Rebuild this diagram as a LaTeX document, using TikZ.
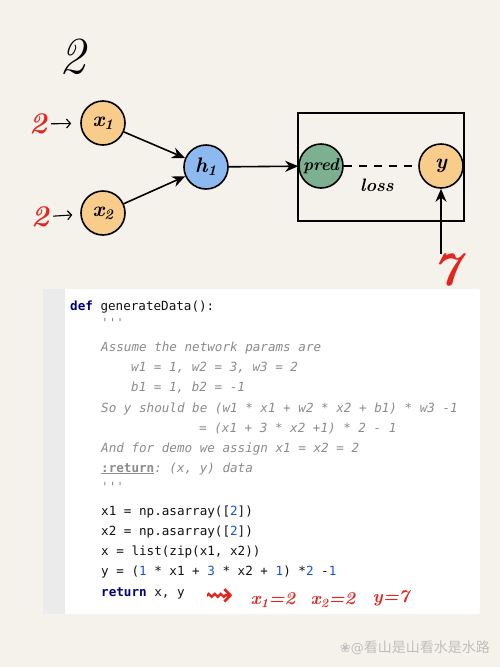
\documentclass[tikz,border=0pt]{standalone}
\usepackage{fontspec}
\setmonofont{DejaVu Sans Mono}
\newfontfamily\cjkfont{Noto Sans CJK SC}
\newfontfamily\dingfont{DejaVu Sans}
\usetikzlibrary{arrows.meta, positioning}
\definecolor{paper}{HTML}{F5F2EC}
\definecolor{gutter}{HTML}{EBEBEB}
\definecolor{inorange}{HTML}{F8CD8C}
\definecolor{hidblue}{HTML}{8CB9F0}
\definecolor{predgreen}{HTML}{7DB091}
\definecolor{inkred}{HTML}{E0261E}
\definecolor{kwnavy}{HTML}{000080}
\definecolor{numblue}{HTML}{1750EB}
\definecolor{docgray}{HTML}{8C8C8C}
\definecolor{codeink}{HTML}{111111}
\tikzset{
    neuron/.style={circle, draw=black, line width=1.6pt, minimum size=44pt, inner sep=0pt, font=\fontsize{21}{21}\selectfont\bfseries\itshape},
    inneuron/.style={neuron, fill=inorange},
    hidneuron/.style={neuron, fill=hidblue},
    predneuron/.style={neuron, fill=predgreen},
    arrow/.style={-{Stealth[length=13pt, width=11pt]}, line width=1.6pt, draw=black},
    smallarrow/.style={-{Straight Barb[length=4pt, width=9pt]}, line width=1.1pt, draw=black},
    dashedline/.style={line width=1.6pt, dash pattern=on 8pt off 7pt},
    redmark/.style={text=inkred, inner sep=0pt, font=\fontsize{30}{30}\selectfont\bfseries\itshape},
    rednote/.style={text=inkred, inner sep=0pt, font=\fontsize{18}{18}\selectfont\bfseries\itshape},
    codeline/.style={anchor=base west, inner sep=0pt, text=codeink, font=\ttfamily\fontsize{12.6}{15}\selectfont},
    docline/.style={codeline, text=docgray, font=\ttfamily\itshape\fontsize{12.6}{15}\selectfont}
}
\newcommand{\kwd}[1]{\textcolor{kwnavy}{\bfseries #1}}
\newcommand{\numc}[1]{\textcolor{numblue}{#1}}
\begin{document}
\begin{tikzpicture}[x=1pt, y=-1pt]
    \fill[paper] (0,0) rectangle (500,667);
    % network
    \node[inner sep=0pt, font=\fontsize{52}{52}\selectfont\itshape] (title) at (72,57) {2};
    \node[inneuron] (x1) at (103,123) {x\textsubscript{1}};
    \node[inneuron] (x2) at (103,213) {x\textsubscript{2}};
    \node[hidneuron] (h1) at (206,167) {h\textsubscript{1}};
    \node[predneuron, font=\fontsize{17}{17}\selectfont\bfseries\itshape] (pred) at (321,166) {pred};
    \node[inneuron] (yout) at (441,166) {y};
    \node[draw, line width=1.6pt, minimum width=166pt, minimum height=108pt, inner sep=0pt] (lossbox) at (381,167) {};
    \node[font=\fontsize{18}{18}\selectfont\bfseries\itshape] (loss) at (377,185) {loss};
    \node[redmark] (in1) at (38,124) {2};
    \node[redmark] (in2) at (40,217) {2};
    \node[redmark, font=\fontsize{48}{48}\selectfont\bfseries\itshape] (target) at (447,270) {7};
    \draw[smallarrow, shorten <=4pt, shorten >=9pt] (in1) -- (x1);
    \draw[smallarrow, shorten <=4pt, shorten >=8pt] (in2) -- (x2);
    \draw[arrow] (x1) -- (h1);
    \draw[arrow] (x2) -- (h1);
    \draw[arrow] (h1) -- (pred);
    \draw[dashedline] (pred) -- (yout);
    \draw[arrow] (target.north -| yout) -- (yout.south);
    % code block
    \fill[white, rounded corners=2pt] (43,289) rectangle (480,614);
    \fill[gutter] (43,289) rectangle (65,614);
    \node[codeline] (l1) at (70,310) {\kwd{def} generateData():};
    \node[docline] (l2) at (101,327) {'{}'{}'};
    \node[docline] (l3) at (101,351) {Assume the network params are};
    \node[docline] (l4) at (131,371) {w1 = 1, w2 = 3, w3 = 2};
    \node[docline] (l5) at (131,391) {b1 = 1, b2 = -1};
    \node[docline] (l6) at (101,412) {So y should be (w1 * x1 + w2 * x2 + b1) * w3 -1};
    \node[docline] (l7) at (199,432) {= (x1 + 3 * x2 +1) * 2 - 1};
    \node[docline] (l8) at (101,452) {And for demo we assign x1 = x2 = 2};
    \node[docline] (l9) at (101,472) {\underline{\upshape\bfseries :return}: (x, y) data};
    \node[docline] (l10) at (101,491) {'{}'{}'};
    \node[codeline] (l11) at (101,515) {x1 = np.asarray([\numc{2}])};
    \node[codeline] (l12) at (101,535) {x2 = np.asarray([\numc{2}])};
    \node[codeline] (l13) at (101,555) {x = list(zip(x1, x2))};
    \node[codeline] (l14) at (101,575) {y = (\numc{1} * x1 + \numc{3} * x2 + \numc{1}) *\numc{2} -\numc{1}};
    \node[codeline] (l15) at (101,596) {\kwd{return} x, y};
    % red notes
    \node[text=inkred, inner sep=0pt, font=\dingfont\fontsize{34}{34}\selectfont] (squig) at (220,598) {⇝};
    \node[rednote] (nx1) at (273,600) {x\textsubscript{1}=2};
    \node[rednote] (nx2) at (333,600) {x\textsubscript{2}=2};
    \node[rednote] (ny) at (391,598) {y=7};
    % watermark
    \node[anchor=east, text=black!25, inner sep=0pt] (mark) at (490,648) {{\dingfont\fontsize{13}{13}\selectfont ❀@}{\cjkfont\fontsize{14}{14}\selectfont 看山是山看水是水路}};
\end{tikzpicture}
\end{document}
